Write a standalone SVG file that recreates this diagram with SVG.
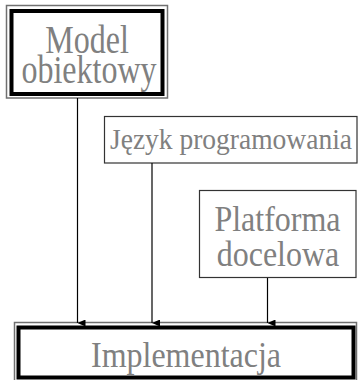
<svg xmlns="http://www.w3.org/2000/svg" width="360" height="380" viewBox="0 0 360 380">
  <defs>
    <marker id="arrow" markerWidth="7" markerHeight="8" refX="3.5" refY="8" orient="auto-start-reverse" markerUnits="userSpaceOnUse" viewBox="0 0 7 8">
      <path d="M0,0 L7,0 L3.5,8 Z" fill="#000"/>
    </marker>
  </defs>
  <style>
    .lbl { font-family: "Liberation Serif", "Times New Roman", serif; fill: #808080; text-anchor: middle; }
    .outer { fill: none; stroke: #707070; stroke-width: 1.5; }
    .inner { fill: none; stroke: #000; stroke-width: 4; }
    .thin { fill: #fff; stroke: #333; stroke-width: 1.2; }
    .conn { stroke: #000; stroke-width: 1.2; fill: none; }
  </style>
  <rect width="360" height="380" fill="#fff"/>

  <g id="node-model">
    <rect class="outer" x="6.5" y="5.5" width="161" height="92.5"/>
    <rect class="inner" x="11.5" y="11" width="151" height="83"/>
    <text class="lbl" font-size="32" transform="translate(87,53) scale(1,1.25)">Model</text>
    <text class="lbl" font-size="32" transform="translate(89,83) scale(1,1.25)">obiektowy</text>
  </g>

  <g id="node-jezyk">
    <rect class="thin" x="104.5" y="116.5" width="252.5" height="46.5"/>
    <text class="lbl" font-size="27.5" transform="translate(231,149) scale(1,1.05)">Język programowania</text>
  </g>

  <g id="node-platforma">
    <rect class="thin" x="199.5" y="190.5" width="156.5" height="87"/>
    <text class="lbl" font-size="32" transform="translate(277.5,231) scale(1,1.15)">Platforma</text>
    <text class="lbl" font-size="32" transform="translate(278,266) scale(1,1.15)">docelowa</text>
  </g>

  <g id="node-implementacja">
    <rect class="outer" x="14.5" y="322.5" width="342" height="59"/>
    <rect class="inner" x="18.5" y="327.5" width="335" height="50"/>
    <text class="lbl" font-size="32" transform="translate(186,366.5) scale(1,1.15)">Implementacja</text>
  </g>

  <g id="connectors">
    <line class="conn" x1="77.5" y1="98" x2="77.5" y2="323" marker-end="url(#arrow)"/>
    <line class="conn" x1="152" y1="163" x2="152" y2="323" marker-end="url(#arrow)"/>
    <line class="conn" x1="267.5" y1="278" x2="267.5" y2="323" marker-end="url(#arrow)"/>
  </g>
</svg>
